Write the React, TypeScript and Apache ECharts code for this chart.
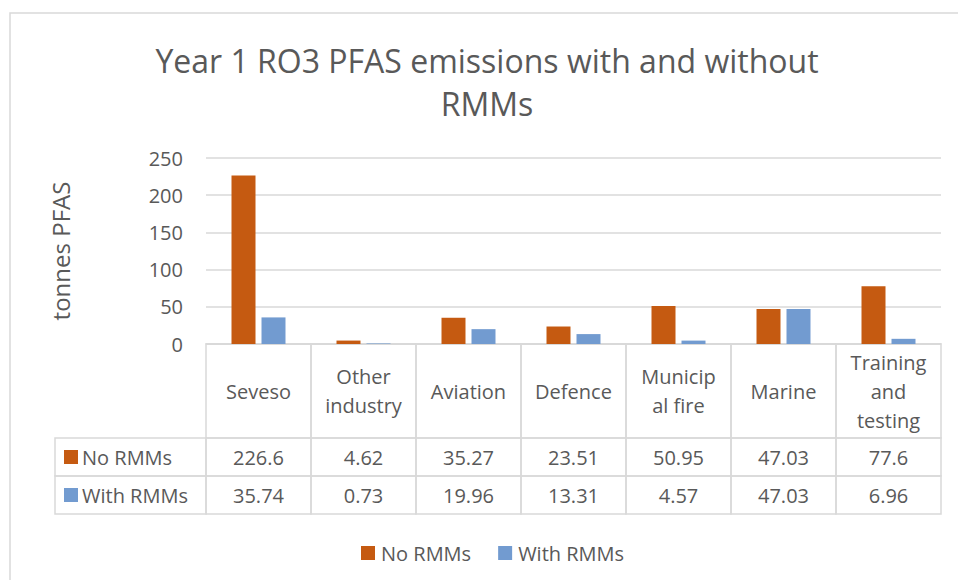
import React, { useEffect, useRef } from "react";
import * as echarts from "echarts";

const categories = ["Seveso", "Other industry", "Aviation", "Defence", "Municipal fire", "Marine", "Training and testing"];
const headerLabels = ["Seveso", "Other\nindustry", "Aviation", "Defence", "Municip\nal fire", "Marine", "Training\nand\ntesting"];
const seriesNames = ["No RMMs", "With RMMs"];
const noRMMs = [226.6, 4.62, 35.27, 23.51, 50.95, 47.03, 77.6];
const withRMMs = [35.74, 0.73, 19.96, 13.31, 4.57, 47.03, 6.96];
const titleText = "Year 1 RO3 PFAS emissions with and without\nRMMs";
const yAxisName = "tonnes PFAS";

const COLORS = ["#C55A11", "#729BD0"];
const TEXT = "#595959";
const LINE = "#D9D9D9";
const FONT = "Open Sans";
// table row bounds (px units on the table's value axis)
const ROWS: [number, number][] = [[0, 94], [94, 132], [132, 170]];
const LEFT_COL_W = 151;

export default function App() {
  const ref = useRef<HTMLDivElement>(null);
  useEffect(() => {
    document.body.style.margin = "0";
    const chart = echarts.init(ref.current!, null, { renderer: "svg" });
    const seriesData = [noRMMs, withRMMs];
    const tableData: number[][] = [];
    categories.forEach((_, i) => {
      for (let r = 0; r < 3; r++) tableData.push([i, r, 0]);
    });
    tableData.push([0, 1, 1]);
    tableData.push([0, 2, 1]);

    chart.setOption({
      animation: false,
      backgroundColor: "#fff",
      textStyle: { fontFamily: FONT },
      title: {
        text: titleText,
        left: 482,
        top: 34,
        textAlign: "center",
        textStyle: { fontFamily: FONT, fontSize: 32, fontWeight: "normal", color: TEXT, lineHeight: 43 },
      },
      legend: {
        data: seriesNames,
        icon: "rect",
        itemWidth: 14,
        itemHeight: 14,
        itemGap: 27,
        left: 356,
        top: 538,
        textStyle: { fontFamily: FONT, fontSize: 20, color: TEXT, padding: [0, 0, 0, 1] },
      },
      graphic: [
        {
          type: "rect",
          shape: { x: 10, y: 13, width: 990, height: 600 },
          style: { fill: "none", stroke: LINE, lineWidth: 1.5 },
          silent: true,
        },
      ],
      grid: [
        { left: 206, right: 17, top: 158, bottom: 236 },
        { left: 206, right: 17, top: 344, bottom: 66 },
      ],
      xAxis: [
        {
          type: "category",
          data: categories,
          gridIndex: 0,
          axisLabel: { show: false },
          axisTick: { show: false },
          axisLine: { show: true, lineStyle: { color: LINE, width: 1.5 } },
        },
        {
          type: "category",
          data: categories,
          gridIndex: 1,
          show: false,
        },
      ],
      yAxis: [
        {
          type: "value",
          gridIndex: 0,
          min: 0,
          max: 250,
          interval: 50,
          name: yAxisName,
          nameLocation: "middle",
          nameRotate: 90,
          nameGap: 134,
          nameTextStyle: { fontFamily: FONT, fontSize: 24, color: TEXT },
          axisLabel: { fontFamily: FONT, fontSize: 20, color: TEXT, margin: 23 },
          axisLine: { show: false },
          axisTick: { show: false },
          splitLine: { lineStyle: { color: LINE, width: 1.5 } },
        },
        {
          type: "value",
          gridIndex: 1,
          min: 0,
          max: 170,
          inverse: true,
          show: false,
        },
      ],
      series: [
        ...seriesNames.map((name, si) => ({
          name,
          type: "bar",
          xAxisIndex: 0,
          yAxisIndex: 0,
          data: seriesData[si],
          barWidth: 24,
          barGap: "25%",
          itemStyle: { color: COLORS[si] },
        })),
        {
          name: "table",
          type: "custom",
          xAxisIndex: 1,
          yAxisIndex: 1,
          silent: true,
          clip: false,
          encode: { x: 0, y: 1 },
          data: tableData,
          renderItem: (params: any, api: any) => {
            const ci = api.value(0);
            const r = api.value(1);
            const kind = api.value(2);
            const [y0v, y1v] = ROWS[r];
            const w = api.size([1, 0])[0];
            const cx = api.coord([ci, y0v])[0];
            const top = api.coord([ci, y0v])[1];
            const bottom = api.coord([ci, y1v])[1];
            const cy = (top + bottom) / 2;
            if (kind === 1) {
              const x1 = cx - w / 2;
              const x0 = x1 - LEFT_COL_W;
              return {
                type: "group",
                children: [
                  { type: "rect", shape: { x: x0, y: top, width: x1 - x0, height: bottom - top }, style: { fill: "none", stroke: LINE, lineWidth: 1.5 } },
                  { type: "rect", shape: { x: x0 + 9, y: cy - 7, width: 14, height: 14 }, style: { fill: COLORS[r - 1] } },
                  { type: "text", x: x0 + 27, y: cy, style: { text: seriesNames[r - 1], fill: TEXT, font: `20px "${FONT}"`, align: "left", verticalAlign: "middle" } },
                ],
              };
            }
            const txt = r === 0 ? headerLabels[ci] : String(seriesData[r - 1][ci]);
            return {
              type: "group",
              children: [
                { type: "rect", shape: { x: cx - w / 2, y: top, width: w, height: bottom - top }, style: { fill: "none", stroke: LINE, lineWidth: 1.5 } },
                { type: "text", x: cx, y: cy, style: { text: txt, fill: TEXT, font: `20px "${FONT}"`, align: "center", verticalAlign: "middle", lineHeight: 29 } },
              ],
            };
          },
        },
      ],
    });
    return () => chart.dispose();
  }, []);
  return <div ref={ref} style={{ width: 958, height: 580 }} />;
}
